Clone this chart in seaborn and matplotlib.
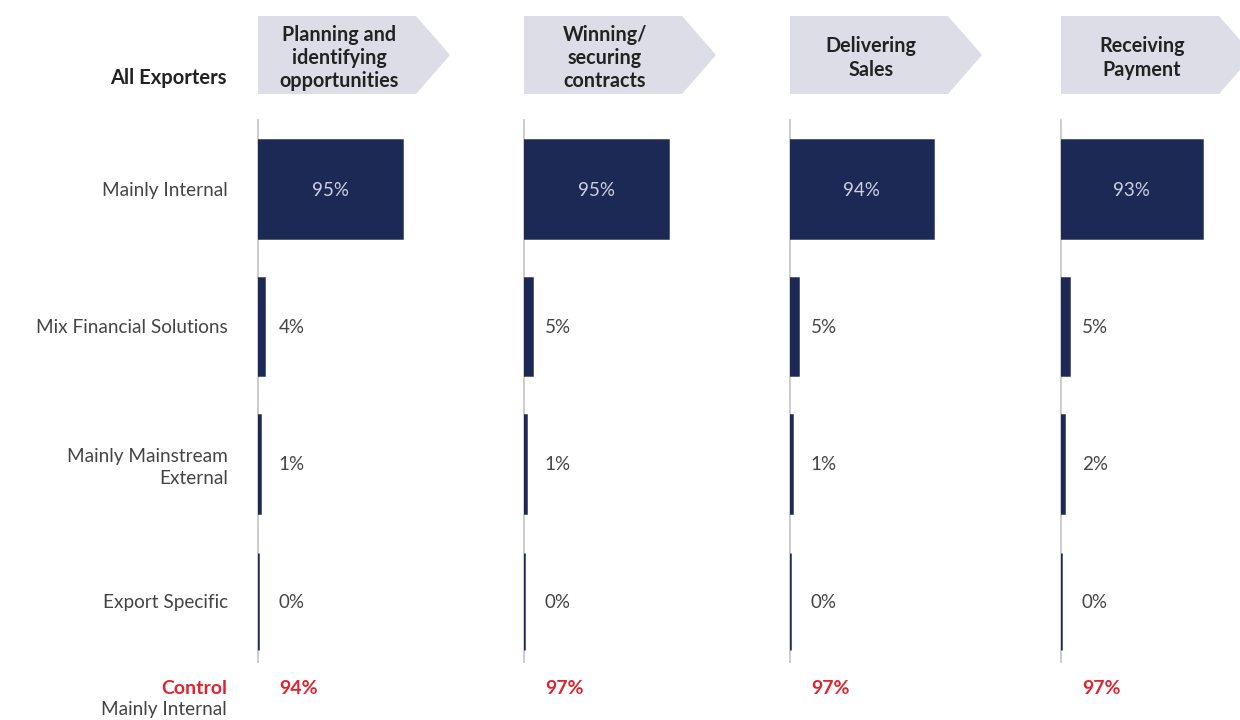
import matplotlib
matplotlib.use("Agg")
import matplotlib.pyplot as plt
from matplotlib.patches import Polygon
import seaborn as sns
import pandas as pd

# ---- data -------------------------------------------------------------
stages = ["Planning and\nidentifying\nopportunities",
          "Winning/\nsecuring\ncontracts",
          "Delivering\nSales",
          "Receiving\nPayment"]
categories = ["Mainly Internal", "Mix Financial Solutions",
              "Mainly Mainstream\nExternal", "Export Specific"]
planning = [95, 4, 1, 0]
winning = [95, 5, 1, 0]
delivering = [94, 5, 1, 0]
receiving = [93, 5, 2, 0]
control_internal = [94, 97, 97, 97]

series = [planning, winning, delivering, receiving]

# ---- style ------------------------------------------------------------
sns.set_theme(style="white")
plt.rcParams["font.family"] = ["Lato", "DejaVu Sans"]

NAVY = "#1c2954"
HEADER = "#dcdde6"
GREY_TXT = "#444444"
RED = "#e0232e"
SPINE = "#cccccc"

W, H = 1240, 720
fig = plt.figure(figsize=(W / 100, H / 100), dpi=100)


def fx(px):
    return px / W


def fy(py):
    return 1 - py / H


panel_left = [258, 524, 790, 1061]
scale = 152          # pixels per 100 %
ax_top, ax_bot = 120, 662

for k, (x0, vals, stage, ctrl) in enumerate(zip(panel_left, series, stages, control_internal)):
    ax = fig.add_axes([fx(x0), fy(ax_bot), fx(scale), (ax_bot - ax_top) / H])
    df = pd.DataFrame({"category": categories, "share": vals})
    sns.barplot(data=df, x="share", y="category", ax=ax, color=NAVY,
                saturation=1, width=0.71, edgecolor=NAVY, linewidth=1.8,
                orient="h")
    ax.set_xlim(0, 100)
    ax.set_ylim(3.44, -0.5)
    ax.set_xlabel("")
    ax.set_ylabel("")
    ax.set_xticks([])
    for s in ("top", "right", "bottom"):
        ax.spines[s].set_visible(False)
    ax.spines["left"].set_color(SPINE)
    ax.spines["left"].set_linewidth(1.4)
    ax.spines["left"].set_zorder(0)
    ax.tick_params(axis="y", length=0, pad=21.5)
    if k == 0:
        for lbl in ax.get_yticklabels():
            lbl.set_fontsize(13.7)
            lbl.set_color(GREY_TXT)
            lbl.set_horizontalalignment("right")
            lbl.set_multialignment("right")
            lbl.set_linespacing(1.3)
    else:
        ax.set_yticklabels([])

    # value labels
    for i, v in enumerate(vals):
        if v >= 50:
            ax.annotate(f"{v}%", xy=(v / 2, i), xytext=(0, -1.2),
                        textcoords="offset points", ha="center", va="center",
                        fontsize=13.5, color="#ccd0e2")
        else:
            ax.annotate(f"{v}%", xy=(0, i), xytext=(15, -0.7),
                        textcoords="offset points", ha="left", va="center",
                        fontsize=13.5, color=GREY_TXT)

    # stage header arrow
    y_t, y_b = 16, 94
    pts = [(x0, y_t), (x0 + 158, y_t), (x0 + 192, (y_t + y_b) / 2),
           (x0 + 158, y_b), (x0, y_b)]
    fig.patches.append(Polygon([(fx(a), fy(b)) for a, b in pts], closed=True,
                               transform=fig.transFigure, facecolor=HEADER,
                               edgecolor="none", zorder=0))
    fig.text(fx(x0 + 81), fy((y_t + y_b) / 2 + 3), stage, ha="center",
             va="center", fontsize=14.2, fontweight="bold", color="#222222",
             linespacing=1.2)

    # control group value
    fig.text(fx(x0 + 21), fy(688), f"{ctrl}%", ha="left", va="center",
             fontsize=14, fontweight="bold", color=RED)

fig.text(fx(227), fy(78), "All Exporters", ha="right", va="center",
         fontsize=14.5, fontweight="bold", color="#222222")
fig.text(fx(227), fy(688), "Control", ha="right", va="center",
         fontsize=14, fontweight="bold", color=RED)
fig.text(fx(227), fy(710), "Mainly Internal", ha="right", va="center",
         fontsize=13.7, color=GREY_TXT)

fig.savefig("out.png", dpi=100, facecolor="white")
